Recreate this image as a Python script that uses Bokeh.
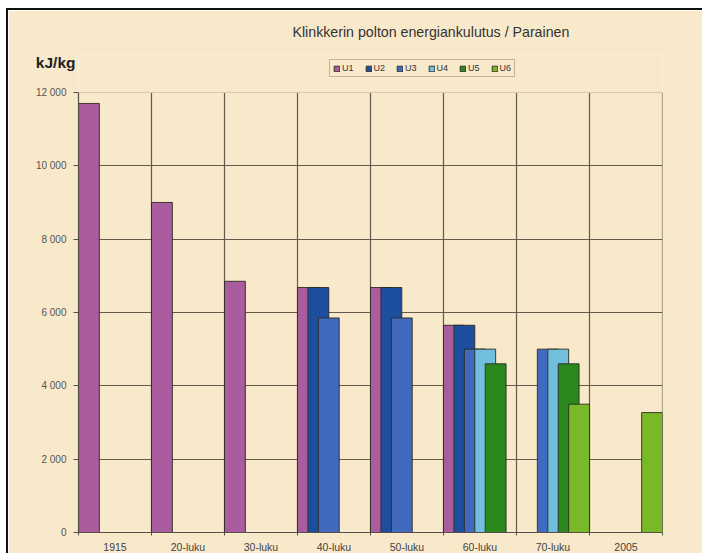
import math
from bokeh.plotting import figure
from bokeh.models import (Range1d, FixedTicker, Legend, LegendItem, Title, Span,
                          LinearAxis, ColumnDataSource)
from bokeh.embed import file_html
from bokeh.resources import INLINE

# ---- data ----
categories = ["1915", "20-luku", "30-luku", "40-luku", "50-luku", "60-luku", "70-luku", "2005"]
series_names = ["U1", "U2", "U3", "U4", "U5", "U6"]
nan = float("nan")
U1 = [11700, 9000, 6850, 6680, 6680, 5650, nan, nan]
U2 = [nan, nan, nan, 6680, 6680, 5650, nan, nan]
U3 = [nan, nan, nan, 5850, 5850, 5000, 5000, nan]
U4 = [nan, nan, nan, nan, nan, 5000, 5000, nan]
U5 = [nan, nan, nan, nan, nan, 4600, 4600, nan]
U6 = [nan, nan, nan, nan, nan, nan, 3500, 3270]
y_ticks = [0, 2000, 4000, 6000, 8000, 10000, 12000]
title_text = "Klinkkerin polton energiankulutus / Parainen"
unit_text = "kJ/kg"

colors = ["#A95C9E", "#1E4F9F", "#4169BE", "#70BFDC", "#2B881D", "#79B829"]
series = [U1, U2, U3, U4, U5, U6]

FONT = "Liberation Sans"
BG = "#F9E9CB"
GRID = "#645a4c"

n = len(categories)
y_max = y_ticks[-1]
frame_h, axis_h = 479, 441
y_top = y_max * frame_h / axis_h

p = figure(width=696, height=545, x_range=Range1d(0, n), y_range=Range1d(0, y_top),
           output_backend="svg", toolbar_location=None,
           min_border_left=70, min_border_right=42, min_border_top=43, min_border_bottom=23,
           background_fill_color=BG, border_fill_color=BG)
p.margin = (8, 0, 0, 6)
p.styles = {"border-top": "2px solid #111111", "border-left": "2px solid #111111",
            "vertical-align": "top"}
p.outline_line_color = None

# horizontal grid
p.xgrid.visible = False
p.ygrid.ticker = FixedTicker(ticks=y_ticks[1:-1])
p.ygrid.grid_line_color = GRID
p.ygrid.grid_line_width = 1.2

# vertical category separators (behind the bars)
seps = list(range(1, n + 1))
p.segment(x0=seps, x1=seps, y0=[0] * len(seps), y1=[y_max] * len(seps),
          line_color=GRID, line_width=1.2)
p.add_layout(Span(location=y_max, dimension="width", line_color="#D6C8B0", line_width=1))

# x axis
xa = p.xaxis[0]
xa.ticker = FixedTicker(ticks=[k + 0.5 for k in range(n)], minor_ticks=list(range(0, n + 1)))
xa.major_label_overrides = {k + 0.5: c for k, c in enumerate(categories)}
xa.major_tick_line_color = None
xa.major_tick_out = 0
xa.major_tick_in = 0
xa.minor_tick_out = 3
xa.minor_tick_in = 0
xa.minor_tick_line_color = "#555048"
xa.axis_line_color = "#555048"
xa.axis_line_width = 1.2
xa.major_label_text_font = FONT
xa.major_label_text_font_size = "10.5px"
xa.major_label_text_color = "#444444"
xa.major_label_standoff = 5

# y axis
ya = p.yaxis[0]
ya.bounds = (0, y_max)
ya.ticker = FixedTicker(ticks=y_ticks)
ya.major_label_overrides = {v: f"{v:,}".replace(",", " ") for v in y_ticks}
ya.minor_tick_line_color = None
ya.major_tick_out = 5
ya.major_tick_in = 0
ya.major_tick_line_color = "#555048"
ya.axis_line_color = "#555048"
ya.axis_line_width = 1.2
ya.major_label_text_font = FONT
ya.major_label_text_font_size = "10px"
ya.major_label_text_color = "#555555"
ya.major_label_standoff = 7

# unit text as a label-only axis at the top of the value scale
unit_pos = y_top * (frame_h - 8) / frame_h
ua = LinearAxis(ticker=FixedTicker(ticks=[unit_pos]), major_label_overrides={unit_pos: unit_text},
                axis_line_color=None, major_tick_line_color=None, minor_tick_line_color=None,
                major_tick_out=0, major_tick_in=0, minor_tick_out=0, minor_tick_in=0,
                major_label_standoff=-43,
                major_label_text_font=FONT, major_label_text_font_size="15.5px",
                major_label_text_font_style="bold", major_label_text_color="#222222")
p.add_layout(ua, "left")

# bars: 50% overlap, no gap
w = 2.0 / (len(series) + 1)
items = []
for i, (name, vals, col) in enumerate(zip(series_names, series, colors)):
    off = (i + 1) * w / 2
    xs, tops = [], []
    for k, v in enumerate(vals):
        if not math.isnan(v):
            xs.append(k + off)
            tops.append(v)
    src = ColumnDataSource(dict(x=xs, top=tops))
    r = p.vbar(x="x", top="top", bottom=0, width=w, source=src,
               fill_color=col, line_color="#2b2a22", line_width=0.9)
    items.append(LegendItem(label=name, renderers=[r]))

legend = Legend(items=items, orientation="horizontal", location=(251, 455),
                glyph_width=7, glyph_height=7, label_height=8, label_width=10,
                label_standoff=2, spacing=11, padding=3, margin=0,
                label_text_font=FONT, label_text_font_size="9px", label_text_color="#333333",
                border_line_color="#8c8272", border_line_width=1,
                background_fill_color=BG, background_fill_alpha=1)
p.add_layout(legend, "center")

main_title = Title(text=title_text, align="left", offset=214, standoff=26,
                   vertical_align="top",
                   text_font=FONT, text_font_size="14.2px", text_font_style="normal",
                   text_color="#333333")
p.add_layout(main_title, "above")

open("out.html", "w").write(file_html(p, INLINE))
